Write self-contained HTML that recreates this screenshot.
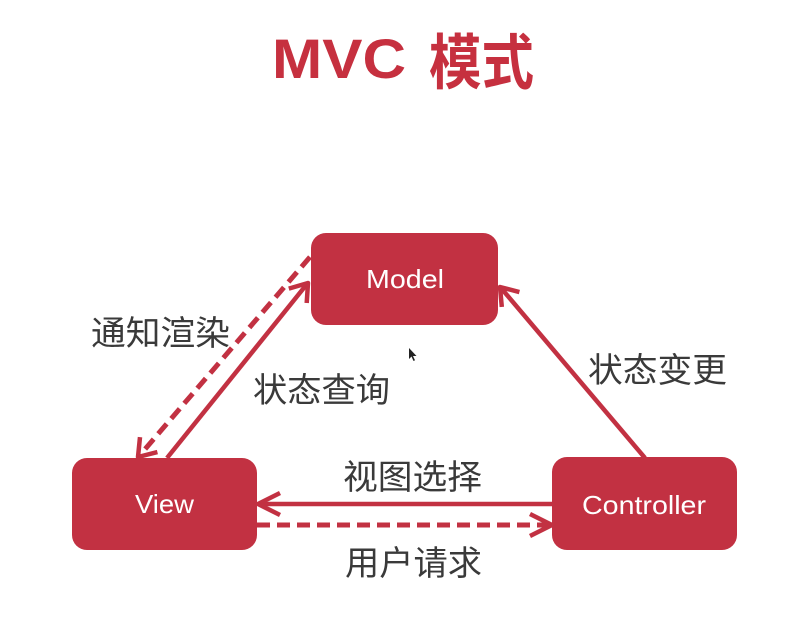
<!DOCTYPE html>
<html>
<head>
<meta charset="utf-8">
<style>
html,body{margin:0;padding:0;background:#ffffff;}
body{width:807px;height:640px;overflow:hidden;}
svg{display:block;}
</style>
</head>
<body>
<svg width="807" height="640" viewBox="0 0 807 640" xmlns="http://www.w3.org/2000/svg">
  <rect x="0" y="0" width="807" height="640" fill="#ffffff"/>

  <!-- Title -->
  <text x="272" y="78" font-family="Liberation Sans, sans-serif" font-weight="bold" font-size="56" fill="#c6303f" textLength="134" lengthAdjust="spacingAndGlyphs">MVC</text>
  <text x="429" y="84" font-family="Liberation Sans, 'Noto Sans CJK SC', sans-serif" font-weight="bold" font-size="60" fill="#c6303f" textLength="105" lengthAdjust="spacingAndGlyphs">模式</text>

  <!-- Boxes -->
  <rect x="311" y="233" width="187" height="92" rx="15" ry="15" fill="#c23142"/>
  <rect x="72" y="458" width="185" height="92" rx="15" ry="15" fill="#c23142"/>
  <rect x="552" y="457" width="185" height="93" rx="15" ry="15" fill="#c23142"/>

  <text x="366" y="288" font-family="Liberation Sans, sans-serif" font-size="26" fill="#ffffff" textLength="78" lengthAdjust="spacingAndGlyphs">Model</text>
  <text x="135" y="513" font-family="Liberation Sans, sans-serif" font-size="26" fill="#ffffff" textLength="59" lengthAdjust="spacingAndGlyphs">View</text>
  <text x="582" y="514" font-family="Liberation Sans, sans-serif" font-size="26" fill="#ffffff" textLength="124" lengthAdjust="spacingAndGlyphs">Controller</text>

  <g stroke="#c23142" fill="none" stroke-linecap="butt" stroke-linejoin="round">
    <!-- View -> Model solid (状态查询) -->
    <line x1="167" y1="458" x2="307" y2="284" stroke-width="4.5"/>
    <polyline points="288.8,288.6 308,283 306.7,303" stroke-width="4.5"/>

    <!-- Model -> View dashed (通知渲染) -->
    <line x1="310" y1="257" x2="140" y2="455" stroke-width="5" stroke-dasharray="13 7"/>
    <polyline points="157.4,452.1 138,457 140,437.1" stroke-width="4.5"/>

    <!-- Controller -> Model solid (状态变更) -->
    <line x1="645" y1="458" x2="501" y2="288" stroke-width="4.5"/>
    <polyline points="501.8,306.9 500,287 519.4,292.1" stroke-width="4.5"/>

    <!-- Controller -> View solid (视图选择) -->
    <line x1="259" y1="504" x2="552" y2="504" stroke-width="4.5"/>
    <polyline points="280,493 258,504 280,515" stroke-width="4.5"/>

    <!-- View -> Controller dashed (用户请求) -->
    <line x1="257" y1="525" x2="550" y2="525" stroke-width="5" stroke-dasharray="13 7"/>
    <polyline points="530,514 552,525 530,536" stroke-width="4.5"/>
  </g>

  <!-- Labels -->
  <g font-family="Liberation Sans, 'Noto Sans CJK SC', sans-serif" font-size="34" fill="#3a3a3a">
    <text x="91" y="345" textLength="139" lengthAdjust="spacingAndGlyphs">通知渲染</text>
    <text x="253" y="402" textLength="137" lengthAdjust="spacingAndGlyphs">状态查询</text>
    <text x="588" y="382" textLength="139" lengthAdjust="spacingAndGlyphs">状态变更</text>
    <text x="343" y="489" textLength="139" lengthAdjust="spacingAndGlyphs">视图选择</text>
    <text x="345" y="575" textLength="137" lengthAdjust="spacingAndGlyphs">用户请求</text>
  </g>

  <!-- mouse cursor -->
  <polygon points="409,348 409,359 411.5,356.5 413.5,361 415,360.3 413,356 416.5,356" fill="#222222"/>
</svg>
</body>
</html>
